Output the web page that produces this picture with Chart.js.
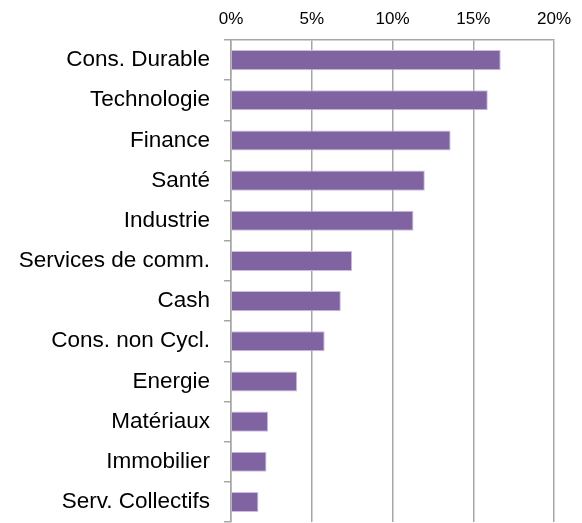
<!DOCTYPE html>
<html>
<head>
<meta charset="utf-8">
<script src="https://cdn.jsdelivr.net/npm/chart.js@4"></script>
<style>
  html, body { margin: 0; padding: 0; background: #fff; overflow: hidden; }
  canvas { display: block; }
</style>
</head>
<body>
<canvas id="graficaSecteurs" width="582" height="523"></canvas>
<script>
// secteurs et poids (%)
const secteurs = ['Cons. Durable', 'Technologie', 'Finance', 'Santé', 'Industrie',
    'Services de comm.', 'Cash', 'Cons. non Cycl.', 'Energie', 'Matériaux',
    'Immobilier', 'Serv. Collectifs'];
const poids = [16.7, 15.9, 13.6, 12.0, 11.3, 7.5, 6.8, 5.8, 4.1, 2.3, 2.2, 1.7];
const ticksX = [0, 5, 10, 15, 20];

new Chart(document.getElementById('graficaSecteurs'), {
    type: 'bar',
    data: {
        labels: secteurs,
        datasets: [{
            data: poids,
            backgroundColor: '#8064a2',
            borderColor: '#cbbde0',
            borderWidth: 1,
            barPercentage: 0.5,
            categoryPercentage: 1.0
        }]
    },
    options: {
        indexAxis: 'y',
        responsive: false,
        animation: false,
        layout: { autoPadding: false, padding: { left: 0, right: 28, top: 0, bottom: 1 } },
        plugins: {
            legend: { display: false },
            tooltip: { enabled: false }
        },
        scales: {
            x: {
                position: 'top',
                min: ticksX[0],
                max: ticksX[ticksX.length - 1],
                afterBuildTicks: axis => { axis.ticks = ticksX.map(v => ({ value: v })); },
                afterFit: axis => { axis.height = 40; axis.paddingLeft = 0; axis.paddingRight = 0; },
                grid: { color: '#a6a6a6', lineWidth: 1.5, drawTicks: false },
                border: { color: '#a6a6a6', width: 1.5 },
                ticks: {
                    padding: 10,
                    color: '#000',
                    font: { family: 'Liberation Sans', size: 17 },
                    callback: v => v + '%'
                }
            },
            y: {
                afterFit: axis => { axis.width = 231; axis.paddingTop = 0; axis.paddingBottom = 0; },
                grid: {
                    offset: true,
                    drawOnChartArea: false,
                    color: '#a6a6a6',
                    lineWidth: 1.5,
                    tickLength: 7
                },
                border: { color: '#a6a6a6', width: 1.5 },
                ticks: {
                    padding: 14,
                    color: '#000',
                    font: { family: 'Liberation Sans', size: 22.5 }
                }
            }
        }
    }
});
</script>
</body>
</html>
